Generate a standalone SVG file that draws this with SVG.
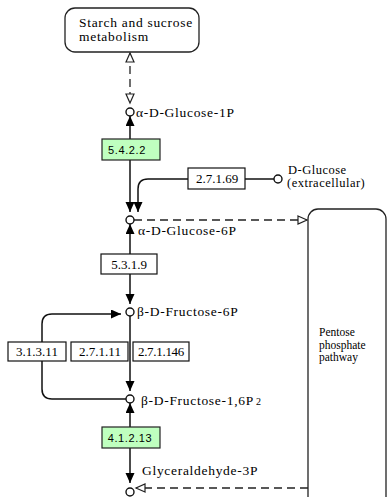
<svg xmlns="http://www.w3.org/2000/svg" width="388" height="497" viewBox="0 0 388 497">
<style>
.bg{fill:#ffffff}
.map{fill:#ffffff;stroke:#222;stroke-width:1.3}
.cpd{fill:#ffffff;stroke:#111;stroke-width:1.4}
.ec{fill:#ffffff;stroke:#111;stroke-width:1.2}
.ecg{fill:#bfffbf;stroke:#222;stroke-width:1.2}
.lbl{font-family:'Liberation Serif','Times New Roman',serif;font-size:13.5px;fill:#000;letter-spacing:0.7px}
.pw{font-family:'Liberation Serif','Times New Roman',serif;font-size:11.5px;fill:#000}
.ect{font-family:'Liberation Serif','Times New Roman',serif;font-size:13px;fill:#000;text-anchor:middle}
.ecgt{font-family:'Liberation Sans',Arial,sans-serif;font-size:11px;fill:#000;text-anchor:middle;letter-spacing:0.6px}
.ln{fill:none;stroke:#111;stroke-width:1.5}
.dash{fill:none;stroke:#222;stroke-width:1.3;stroke-dasharray:8,5}
</style>
<defs>
<marker id="fa" markerUnits="userSpaceOnUse" markerWidth="11" markerHeight="10" refX="10" refY="4.5" orient="auto-start-reverse" viewBox="0 0 11 10">
<path d="M0,0 L10,4.5 L0,9 z" fill="#000" stroke="none"/>
</marker>
<marker id="oa" markerUnits="userSpaceOnUse" markerWidth="12" markerHeight="11" refX="10" refY="5" orient="auto-start-reverse" viewBox="0 0 12 11">
<path d="M1,1 L10,5 L1,9 z" fill="#fff" stroke="#222" stroke-width="1.2" stroke-dasharray="none"/>
</marker>
</defs>
<rect class="bg" x="0" y="0" width="388" height="497"/>
<g id="connectors">
<path class="dash" d="M130,53 V103" marker-start="url(#oa)" marker-end="url(#oa)"/>
<path class="ln" d="M130,116 V212" marker-start="url(#fa)" marker-end="url(#fa)"/>
<path class="ln" d="M274,179 H245"/>
<path class="ln" d="M188,179 H148 Q138,179 138,189 V212" marker-end="url(#fa)"/>
<path class="dash" d="M134,220 H307" marker-end="url(#oa)"/>
<path class="ln" d="M130,224 V304" marker-start="url(#fa)" marker-end="url(#fa)"/>
<path class="ln" d="M130,316 V391" marker-end="url(#fa)"/>
<path class="ln" d="M126,399 H52 Q42,399 42,389 V361"/>
<path class="ln" d="M42,342 V324 Q42,314 52,314 H121" marker-end="url(#fa)"/>
<path class="ln" d="M130,403 V483" marker-start="url(#fa)" marker-end="url(#fa)"/>
<path class="dash" d="M308,488 H136" marker-end="url(#oa)"/>
</g>
<g id="starch">
<rect class="map" x="65" y="8" width="134" height="44" rx="10"/>
<text class="lbl" x="79" y="27">Starch and sucrose</text>
<text class="lbl" x="79" y="41">metabolism</text>
</g>
<g id="pentose">
<rect class="map" x="308" y="209" width="78" height="300" rx="10"/>
<text class="pw" x="319" y="336">Pentose</text>
<text class="pw" x="319" y="348.5">phosphate</text>
<text class="pw" x="319" y="361">pathway</text>
</g>
<g id="glc1p">
<circle class="cpd" cx="130" cy="112" r="4"/>
<text class="lbl" x="136" y="117">α-D-Glucose-1P</text>
</g>
<g id="glc6p">
<circle class="cpd" cx="130" cy="220" r="4"/>
<text class="lbl" x="138" y="235">α-D-Glucose-6P</text>
</g>
<g id="glcext">
<circle class="cpd" cx="278" cy="179" r="4"/>
<text class="pw" x="288" y="174" style="font-size:12.5px;letter-spacing:0.5px">D-Glucose</text>
<text class="pw" x="287" y="187" style="font-size:12.5px;letter-spacing:0.5px">(extracellular)</text>
</g>
<g id="f6p">
<circle class="cpd" cx="130" cy="312" r="4"/>
<text class="lbl" x="137" y="316">β-D-Fructose-6P</text>
</g>
<g id="f16p2">
<circle class="cpd" cx="130" cy="399" r="4"/>
<text class="lbl" x="141" y="405">β-D-Fructose-1,6P<tspan font-size="10" dx="2">2</tspan></text>
</g>
<g id="g3p">
<circle class="cpd" cx="130" cy="492" r="4"/>
<text class="lbl" x="142" y="475">Glyceraldehyde-3P</text>
</g>
<g id="ec5422">
<rect class="ecg" x="102" y="139" width="58" height="21"/>
<text class="ecgt" x="127" y="154">5.4.2.2</text>
</g>
<g id="ec27169">
<rect class="ec" x="188" y="168" width="57" height="21"/>
<text class="ect" x="217" y="183">2.7.1.69</text>
</g>
<g id="ec5319">
<rect class="ec" x="101" y="254" width="56" height="20"/>
<text class="ect" x="129" y="269">5.3.1.9</text>
</g>
<g id="ec31311">
<rect class="ec" x="8" y="342" width="58" height="19"/>
<text class="ect" x="37" y="356">3.1.3.11</text>
</g>
<g id="ec27111">
<rect class="ec" x="71" y="342" width="57" height="19"/>
<text class="ect" x="100" y="356">2.7.1.11</text>
</g>
<g id="ec271146">
<rect class="ec" x="133" y="342" width="56" height="19"/>
<text class="ect" x="161" y="356" style="letter-spacing:-0.3px">2.7.1.146</text>
</g>
<g id="ec41213">
<rect class="ecg" x="102" y="427" width="58" height="21"/>
<text class="ecgt" x="130" y="442">4.1.2.13</text>
</g>
</svg>
